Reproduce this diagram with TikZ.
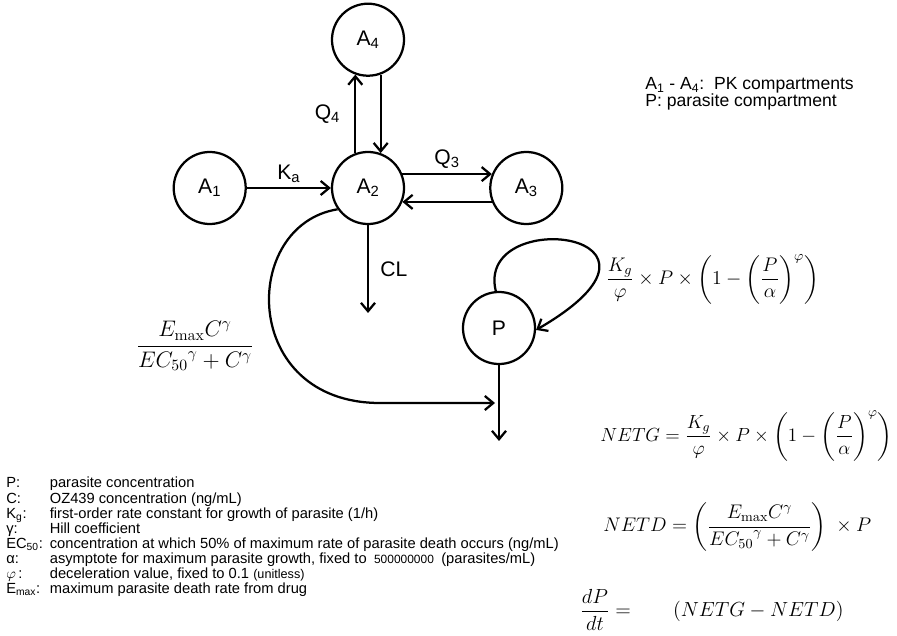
\RequirePackage{fix-cm}
\documentclass[tikz,border=0pt]{standalone}
\usepackage{amsmath}
\usepackage[no-math]{fontspec}
\setmainfont{Liberation Sans}
\usetikzlibrary{positioning,arrows.meta,calc}

\begin{document}
\begin{tikzpicture}[
    x=0.025cm, y=-0.025cm,
    node distance=2.1cm and 2.1cm,
    comp/.style={draw, circle, line width=1.6pt, minimum size=1.8cm,
                 inner sep=0pt, font=\fontsize{15}{18}\selectfont},
    rate/.style={font=\fontsize{15}{18}\selectfont, inner sep=1pt},
    flow/.style={-{Straight Barb[length=6pt,width=10pt]}, line width=1.6pt},
    eqn/.style={font=\fontsize{13.5}{16}\selectfont, inner sep=0pt},
    eqnt/.style={font=\fontsize{16}{19}\selectfont, inner sep=0pt},
    note/.style={align=left, inner sep=0pt},
  ]
    \useasboundingbox (0,0) rectangle (897,636);

    % PK compartments
    \node[comp] (A2) at (368,188) {A\textsubscript{2}};
    \node[comp, left=of A2] (A1) {A\textsubscript{1}};
    \node[comp, right=of A2] (A3) {A\textsubscript{3}};
    \node[comp, above=1.85cm of A2] (A4) {A\textsubscript{4}};
    % parasite compartment
    \node[comp] (P) at (499,328) {P};

    % free ends
    \coordinate (clout) at (368,313);
    \coordinate (pout) at (499,441);
    \coordinate (kill) at (495,403);

    % PK flows
    \draw[flow] (A1) -- node[rate, above=2pt]{K\textsubscript{a}} (A2);
    \draw[flow] (A2.110) -- node[rate, left=9pt]{Q\textsubscript{4}} (A4.-110);
    \draw[flow] (A4.-70) -- (A2.70);
    \draw[flow] (A2.22) -- node[rate, above=2pt]{Q\textsubscript{3}} (A3.158);
    \draw[flow] (A3.-158) -- (A2.-22);
    \draw[flow] (A2) -- node[rate, right=7pt]{CL} (clout);

    % drug effect and parasite growth
    \draw[flow] (A2.-145) .. controls (240,225) and (240,403) .. (380,403) -- (kill);
    \draw[flow] (P.95) .. controls (475,205) and (705,232) .. (P.-3);
    \draw[flow] (P) -- (pout);

    % rate expressions
    \node[eqnt] (kd) at (195,346)
      {$\dfrac{E_{\max}C^{\gamma}}{{EC_{50}}^{\gamma}+C^{\gamma}}$};
    \node[eqn, font=\fontsize{14}{17}\selectfont, anchor=west] (growth) at (606,279)
      {$\dfrac{K_g}{\varphi}\times P\times\left(1-\left(\dfrac{P}{\alpha}\right)^{\varphi}\right)$};
    \node[eqn, anchor=west] (netg) at (600,436)
      {$NETG=\dfrac{K_g}{\varphi}\times P\times\left(1-\left(\dfrac{P}{\alpha}\right)^{\varphi}\right)$};
    \node[eqn, font=\fontsize{14}{17}\selectfont, anchor=west] (netd) at (603,527)
      {$NETD=\left(\dfrac{E_{\max}C^{\gamma}}{{EC_{50}}^{\gamma}+C^{\gamma}}\right)\ \times P$};
    \node[eqn, font=\fontsize{14.5}{17}\selectfont, anchor=west] (dpdt) at (580,610)
      {$\dfrac{dP}{dt}=\hspace{26pt}\left(NETG-NETD\right)$};

    % legends
    \node[note, anchor=north west, font=\fontsize{12.5}{12.2}\selectfont] (key) at (645,77)
      {A\textsubscript{1} - A\textsubscript{4}:\ \ PK compartments\\P: parasite compartment};
    \node[note, anchor=north west, font=\fontsize{10.45}{10.6}\selectfont] (vars) at (6,477) {%
      \begin{tabular}{@{}p{31pt}@{}l@{}}
        P: & parasite concentration\\
        C: & OZ439 concentration (ng/mL)\\
        K\textsubscript{g}: & first-order rate constant for growth of parasite (1/h)\\
        γ: & Hill coefficient\\
        EC\textsubscript{50}: & concentration at which 50\% of maximum rate of parasite death occurs (ng/mL)\\
        α: & asymptote for maximum parasite growth, fixed to\enspace{\fontsize{8.5}{10}\selectfont 500000000}\enspace(parasites/mL)\\
        $\varphi$\,: & deceleration value, fixed to 0.1 {\small (unitless)}\\
        E\textsubscript{max}: & maximum parasite death rate from drug
      \end{tabular}};
  \end{tikzpicture}
\end{document}
